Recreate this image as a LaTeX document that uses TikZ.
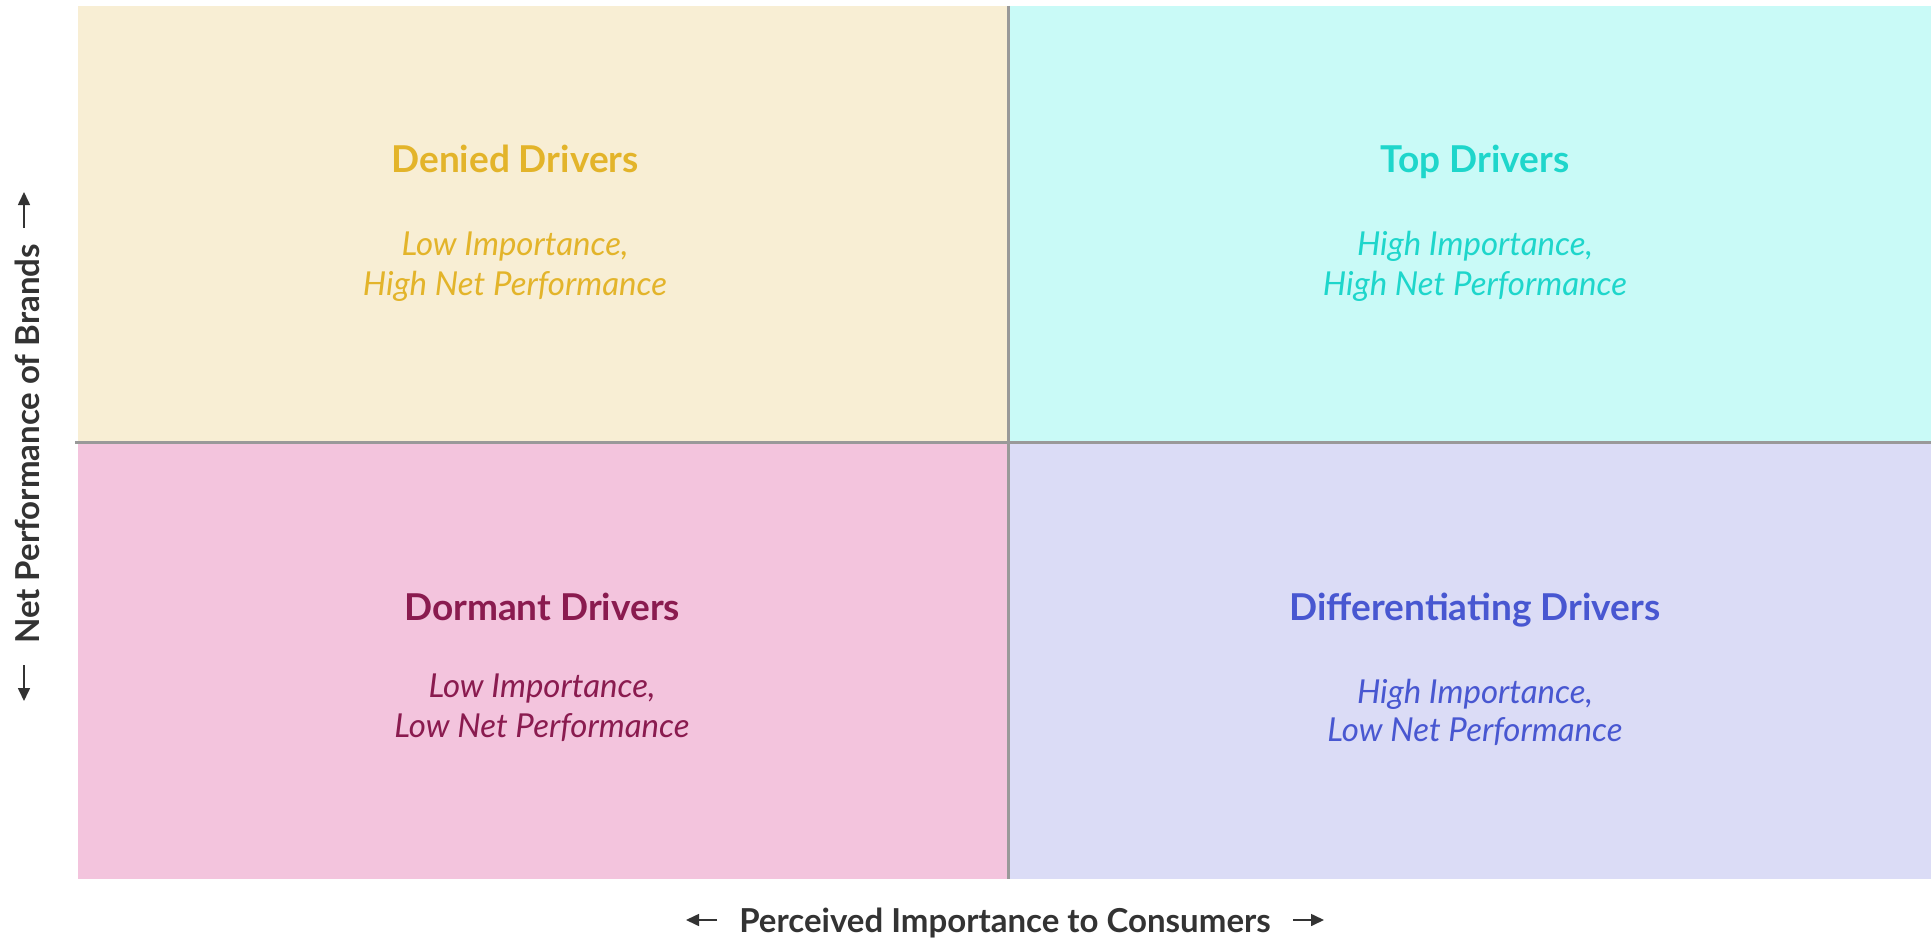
\documentclass[tikz,border=0pt]{standalone}
\usepackage{fontspec}
\setmainfont{Lato}
\usetikzlibrary{arrows.meta, positioning}
\definecolor{deniedfill}{HTML}{F8EED4}
\definecolor{deniedtext}{HTML}{E3B42A}
\definecolor{topfill}{HTML}{C9FAF7}
\definecolor{toptext}{HTML}{1ED6CB}
\definecolor{dormantfill}{HTML}{F3C4DD}
\definecolor{dormanttext}{HTML}{8A1B4F}
\definecolor{difffill}{HTML}{DBDCF6}
\definecolor{difftext}{HTML}{4857D1}
\definecolor{axisgray}{HTML}{999999}
\definecolor{labelgray}{HTML}{333333}

\begin{document}
\begin{tikzpicture}[
    x=1pt, y=-1pt,
    title/.style={font=\fontsize{37}{44}\selectfont\bfseries, anchor=base, inner sep=0pt},
    sub/.style={font=\fontsize{33}{44}\selectfont\itshape, anchor=base, inner sep=0pt},
    axislabel/.style={font=\fontsize{33}{40}\selectfont\bfseries, text=labelgray, anchor=base, inner sep=0pt},
    axisarrow/.style={labelgray, line width=1.6pt, -{Triangle[length=13pt,width=12pt]}},
    divider/.style={axisgray, line width=3pt}
]
    \useasboundingbox (0,0) rectangle (1931,939);

    % ==========================================
    % QUADRANTS
    % ==========================================
    \fill[deniedfill]  (78,6)    rectangle (1008,442);
    \fill[topfill]     (1008,6)  rectangle (1931,442);
    \fill[dormantfill] (78,442)  rectangle (1008,879);
    \fill[difffill]    (1008,442) rectangle (1931,879);

    % dividing lines
    \draw[divider] (1008,6) -- (1008,879);
    \draw[divider] (75,442) -- (1931,442);

    % ==========================================
    % QUADRANT TEXTS
    % ==========================================
    % Denied (top left)
    \node[title, text=deniedtext] (denied)   at (515,172) {Denied Drivers};
    \node[sub, text=deniedtext]   (denied_a) at (515,255) {Low Importance,};
    \node[sub, text=deniedtext]   (denied_b) at (515,295) {High Net Performance};

    % Top (top right)
    \node[title, text=toptext] (top)   at (1475,172) {Top Drivers};
    \node[sub, text=toptext]   (top_a) at (1475,255) {High Importance,};
    \node[sub, text=toptext]   (top_b) at (1475,295) {High Net Performance};

    % Dormant (bottom left)
    \node[title, text=dormanttext] (dormant)   at (542,620) {Dormant Drivers};
    \node[sub, text=dormanttext]   (dormant_a) at (542,697) {Low Importance,};
    \node[sub, text=dormanttext]   (dormant_b) at (542,737) {Low Net Performance};

    % Differentiating (bottom right)
    \node[title, text=difftext] (diff)   at (1475,620) {Differentiating Drivers};
    \node[sub, text=difftext]   (diff_a) at (1475,703) {High Importance,};
    \node[sub, text=difftext]   (diff_b) at (1475,741) {Low Net Performance};

    % ==========================================
    % AXES
    % ==========================================
    \node[axislabel] (xlabel) at (1005,932) {Perceived Importance to Consumers};
    \node[axislabel, rotate=90] (ylabel) at (39,444) {Net Performance of Brands};

    \coordinate (x_left_s)  at (717,920);
    \coordinate (x_left_e)  at (686,920);
    \coordinate (x_right_s) at (1293,920);
    \coordinate (x_right_e) at (1324,920);
    \coordinate (y_up_s)    at (24,228);
    \coordinate (y_up_e)    at (24,192);
    \coordinate (y_down_s)  at (24,665);
    \coordinate (y_down_e)  at (24,701);

    \draw[axisarrow] (x_left_s)  -- (x_left_e);
    \draw[axisarrow] (x_right_s) -- (x_right_e);
    \draw[axisarrow] (y_up_s)    -- (y_up_e);
    \draw[axisarrow] (y_down_s)  -- (y_down_e);

\end{tikzpicture}
\end{document}
